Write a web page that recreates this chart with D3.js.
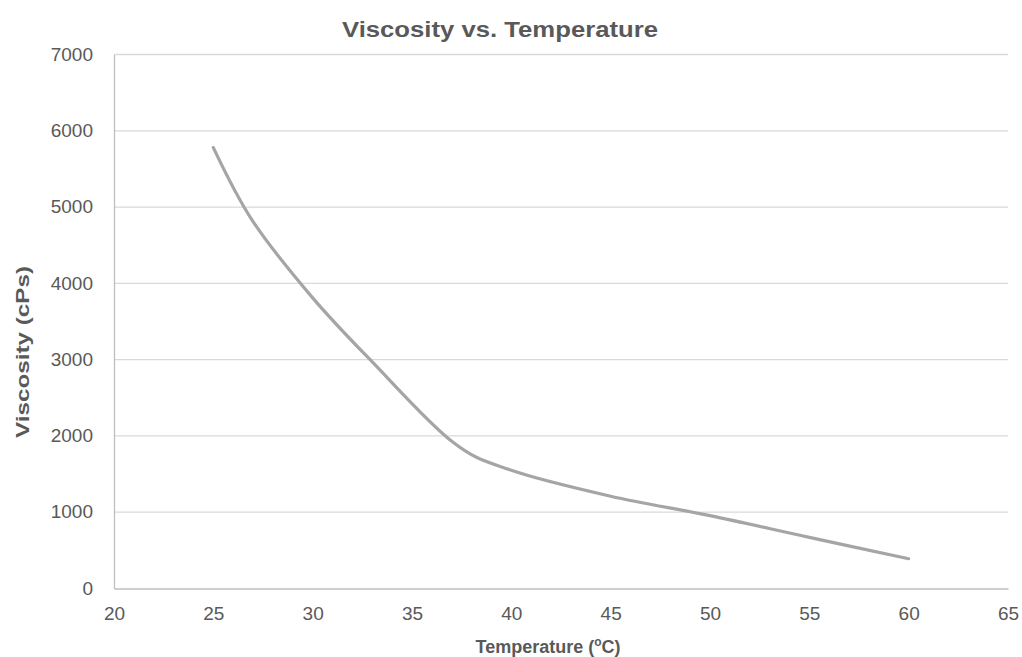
<!DOCTYPE html>
<html>
<head>
<meta charset="utf-8">
<script src="https://cdn.jsdelivr.net/npm/d3@7"></script>
<style>
  body { margin: 0; background: #fff; }
  text { font-family: "Liberation Sans", Arial, sans-serif; fill: #595959; }
</style>
</head>
<body>
<div id="chart"></div>
<script>
// datos
const temperatures = [25, 27, 30, 33, 37, 40, 45, 50, 55, 60];
const viscosities = [5780, 4810, 3810, 2970, 1930, 1550, 1210, 955, 670, 390];
const xTicks = [20, 25, 30, 35, 40, 45, 50, 55, 60, 65];
const yTicks = [0, 1000, 2000, 3000, 4000, 5000, 6000, 7000];

const data = temperatures.map((t, i) => ({ t: t, v: viscosities[i] }));

const width = 1022, height = 657;
const margin = { top: 54.5, right: 14, bottom: 68.5, left: 114 };
const innerW = width - margin.left - margin.right;
const innerH = height - margin.top - margin.bottom;

const svg = d3.select("#chart").append("svg")
    .attr("width", width)
    .attr("height", height);

const g = svg.append("g")
    .attr("transform", "translate(" + margin.left + "," + margin.top + ")");

const x = d3.scaleLinear().domain([20, 65]).range([0, innerW]);
const y = d3.scaleLinear().domain([0, 7000]).range([innerH, 0]);

// lineas de cuadricula
g.append("g")
    .selectAll("line")
    .data(yTicks.filter(d => d > 0))
    .enter().append("line")
    .attr("x1", 0)
    .attr("x2", innerW)
    .attr("y1", d => y(d))
    .attr("y2", d => y(d))
    .attr("stroke", "#d9d9d9")
    .attr("stroke-width", 1.3);

// eje Y
const yAxis = g.append("g")
    .call(d3.axisLeft(y).tickValues(yTicks).tickFormat(d3.format("d")).tickSize(0).tickPadding(21));
yAxis.select(".domain").attr("stroke", "#bfbfbf").attr("stroke-width", 1.3);
yAxis.selectAll("text")
    .style("font-size", "19px")
    .style("fill", "#595959")
    .attr("dy", "0.3em");

// eje X
const xAxis = g.append("g")
    .attr("transform", "translate(0," + innerH + ")")
    .call(d3.axisBottom(x).tickValues(xTicks).tickSize(0).tickPadding(18));
xAxis.select(".domain").attr("stroke", "#bfbfbf").attr("stroke-width", 1.3);
xAxis.selectAll("text")
    .style("font-size", "19px")
    .style("fill", "#595959");

// curva suavizada
const line = d3.line()
    .x(d => x(d.t))
    .y(d => y(d.v))
    .curve(d3.curveCatmullRom.alpha(0));

g.append("path")
    .datum(data)
    .attr("fill", "none")
    .attr("stroke", "#a5a5a5")
    .attr("stroke-width", 3.2)
    .attr("stroke-linecap", "round")
    .attr("stroke-linejoin", "round")
    .attr("d", line);

// titulo
svg.append("text")
    .attr("x", 500)
    .attr("y", 37)
    .attr("text-anchor", "middle")
    .attr("textLength", 316)
    .attr("lengthAdjust", "spacingAndGlyphs")
    .style("font-size", "22.5px")
    .style("font-weight", "bold")
    .text("Viscosity vs. Temperature");

// titulo eje X
const xt = svg.append("text")
    .attr("x", 548)
    .attr("y", 653)
    .attr("text-anchor", "middle")
    .style("font-size", "18px")
    .style("font-weight", "bold");
xt.append("tspan").text("Temperature (");
xt.append("tspan").attr("baseline-shift", "super").style("font-size", "12px").text("o");
xt.append("tspan").text("C)");

// titulo eje Y
svg.append("text")
    .attr("transform", "translate(29,352) rotate(-90)")
    .attr("text-anchor", "middle")
    .attr("textLength", 172)
    .attr("lengthAdjust", "spacingAndGlyphs")
    .style("font-size", "19px")
    .style("font-weight", "bold")
    .text("Viscosity (cPs)");
</script>
</body>
</html>
